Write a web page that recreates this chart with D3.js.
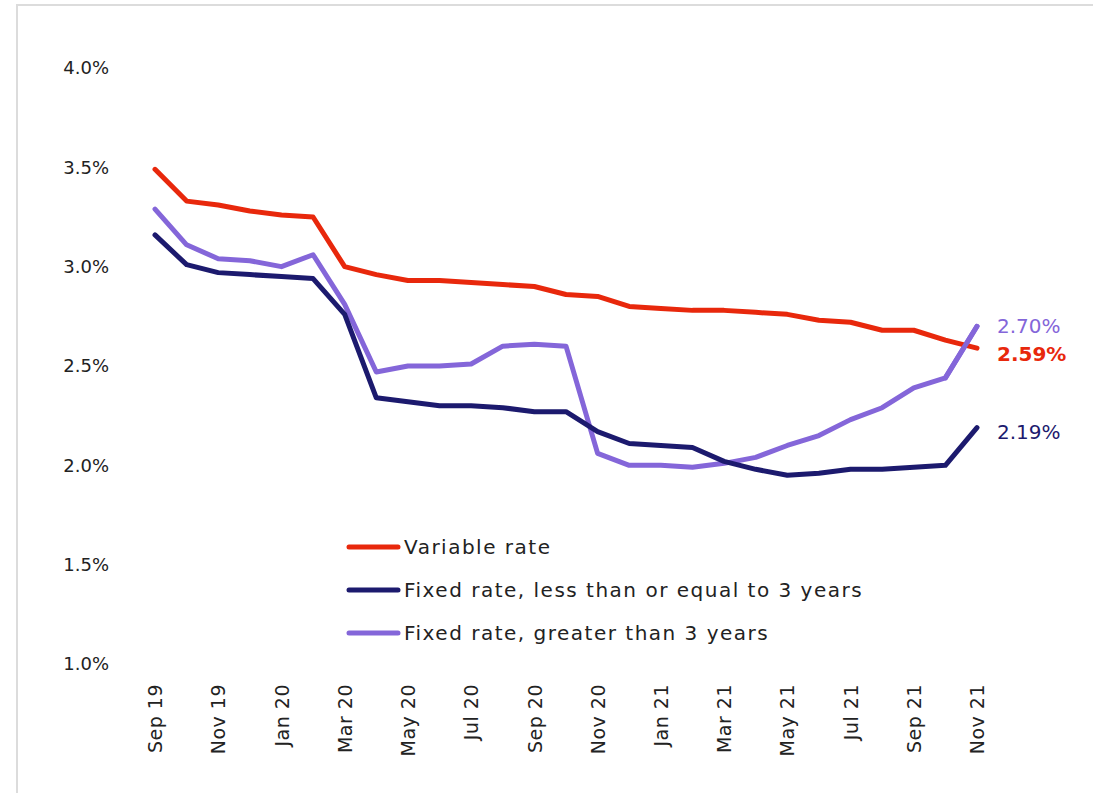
<!DOCTYPE html>
<html>
<head>
<meta charset="utf-8">
<script src="https://cdn.jsdelivr.net/npm/d3@7"></script>
<style>
  body { margin: 0; background: #fff; }
  svg { display: block; }
  .axis text { font-family: "DejaVu Sans", sans-serif; fill: #222; }
</style>
</head>
<body>
<div id="chart"></div>
<script>
// months Sep 19 .. Nov 21
var months = ["Sep 19","Oct 19","Nov 19","Dec 19","Jan 20","Feb 20","Mar 20","Apr 20","May 20","Jun 20",
  "Jul 20","Aug 20","Sep 20","Oct 20","Nov 20","Dec 20","Jan 21","Feb 21","Mar 21","Apr 21",
  "May 21","Jun 21","Jul 21","Aug 21","Sep 21","Oct 21","Nov 21"];

var variableRate = [3.49,3.33,3.31,3.28,3.26,3.25,3.00,2.96,2.93,2.93,2.92,2.91,2.90,2.86,2.85,2.80,
  2.79,2.78,2.78,2.77,2.76,2.73,2.72,2.68,2.68,2.63,2.59];
var fixedShort = [3.16,3.01,2.97,2.96,2.95,2.94,2.76,2.34,2.32,2.30,2.30,2.29,2.27,2.27,2.17,2.11,
  2.10,2.09,2.02,1.98,1.95,1.96,1.98,1.98,1.99,2.00,2.19];
var fixedLong = [3.29,3.11,3.04,3.03,3.00,3.06,2.81,2.47,2.50,2.50,2.51,2.60,2.61,2.60,2.06,2.00,
  2.00,1.99,2.01,2.04,2.10,2.15,2.23,2.29,2.39,2.44,2.70];

var seriesNames = ["Variable rate","Fixed rate, less than or equal to 3 years","Fixed rate, greater than 3 years"];
var seriesColors = ["#e8280c","#1c1a6e","#8466d9"];
var yTicks = [1.0,1.5,2.0,2.5,3.0,3.5,4.0];

var W = 1093, H = 793;
var svg = d3.select("#chart").append("svg").attr("width", W).attr("height", H);

// frame
svg.append("path")
  .attr("d", "M17,793 V5 H1093")
  .attr("fill", "none")
  .attr("stroke", "#dcdcdc")
  .attr("stroke-width", 2);

var x = d3.scalePoint().domain(months).range([155, 977]);
var y = d3.scaleLinear().domain([1, 4]).range([664, 68]);

// y axis labels
var yAxis = svg.append("g").attr("class", "axis")
  .attr("transform", "translate(109,0)")
  .call(d3.axisLeft(y).tickValues(yTicks).tickSize(0).tickPadding(0)
    .tickFormat(function(d){ return d3.format(".1f")(d) + "%"; }));
yAxis.select(".domain").remove();
yAxis.selectAll("text").style("font-size", "18px");

// x axis labels, every other month, rotated
var xAxis = svg.append("g").attr("class", "axis")
  .attr("transform", "translate(0,684)")
  .call(d3.axisBottom(x).tickValues(months.filter(function(d, i){ return i % 2 == 0; }))
    .tickSize(0).tickPadding(0));
xAxis.select(".domain").remove();
xAxis.selectAll("text")
  .style("font-size", "19px")
  .style("letter-spacing", "0.5px")
  .attr("text-anchor", "end")
  .attr("dy", "0.35em")
  .attr("x", 0).attr("y", 0)
  .attr("transform", "rotate(-90)");

var allSeries = [variableRate, fixedShort, fixedLong];
var line = d3.line()
  .x(function(d, i){ return x(months[i]); })
  .y(function(d){ return y(d); });

// purple, navy, red
[2, 1, 0].forEach(function(k) {
  svg.append("path")
    .datum(allSeries[k])
    .attr("fill", "none")
    .attr("stroke", seriesColors[k])
    .attr("stroke-width", 5)
    .attr("stroke-linejoin", "round")
    .attr("stroke-linecap", "round")
    .attr("d", line);
});
// purple end segment crosses above red
svg.append("path")
  .datum(fixedLong.slice(-2))
  .attr("fill", "none")
  .attr("stroke", seriesColors[2])
  .attr("stroke-width", 5)
  .attr("stroke-linecap", "round")
  .attr("d", d3.line()
    .x(function(d, i){ return x(months[months.length - 2 + i]); })
    .y(function(d){ return y(d); }));

// end labels
var endLabels = [
  {k: 2, dy: 0},
  {k: 0, dy: 6},
  {k: 1, dy: 4}
];
endLabels.forEach(function(e) {
  var s = allSeries[e.k];
  svg.append("text")
    .attr("x", 997)
    .attr("y", y(s[s.length - 1]) + e.dy)
    .attr("dy", "0.35em")
    .style("font-family", "'DejaVu Sans', sans-serif")
    .style("font-size", "20px")
    .style("font-weight", e.k == 0 ? "bold" : "normal")
    .attr("fill", seriesColors[e.k])
    .text(d3.format(".2f")(s[s.length - 1]) + "%");
});

// legend
var legend = svg.append("g").attr("transform", "translate(347,547)");
seriesNames.forEach(function(name, i) {
  var g = legend.append("g").attr("transform", "translate(0," + (i * 43) + ")");
  g.append("line")
    .attr("x1", 2).attr("x2", 51)
    .attr("stroke", seriesColors[i])
    .attr("stroke-width", 5)
    .attr("stroke-linecap", "round");
  g.append("text")
    .attr("x", 57)
    .attr("dy", "0.35em")
    .style("font-family", "'DejaVu Sans', sans-serif")
    .style("font-size", "20px")
    .style("letter-spacing", "1.5px")
    .attr("fill", "#222")
    .text(name);
});
</script>
</body>
</html>
